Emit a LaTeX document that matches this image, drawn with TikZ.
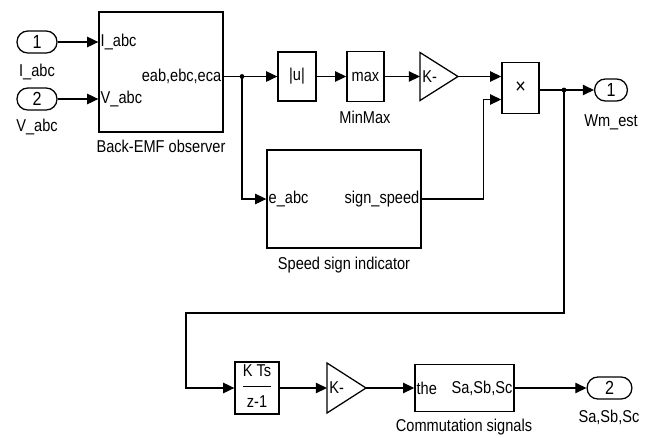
\documentclass[tikz,border=0pt]{standalone}
\usepackage{fontspec}
\setmainfont{Liberation Sans}[FakeStretch=0.85]
\usetikzlibrary{arrows.meta}

\begin{document}
\begin{tikzpicture}[x=0.025cm, y=-0.025cm,
  block/.style={draw, line width=0.9pt, inner sep=0pt, font=\fontsize{12.2}{14}\selectfont},
  port/.style={draw, line width=0.9pt, rounded corners=2.7mm, minimum height=0.55cm,
    inner sep=0pt, font=\fontsize{13.5}{15}\selectfont},
  gainbox/.style={draw, line width=0.9pt, line join=miter},
  pin/.style={inner sep=1.5pt, font=\fontsize{12.2}{14}\selectfont},
  caption/.style={inner sep=0pt, font=\fontsize{12.2}{14}\selectfont},
  wire/.style={-{Triangle[length=2.8mm, width=2.6mm]}, line width=0.9pt},
  tap/.style={circle, fill, inner sep=0pt, minimum size=3.4pt}
]
  \useasboundingbox (0,0) rectangle (654,437);

  % inports
  \node[port, minimum width=1cm] (in1) at (37,42) {1};
  \node[caption] (in1lab) at (37,72) {I\_abc};
  \node[port, minimum width=1cm] (in2) at (37,99) {2};
  \node[caption] (in2lab) at (37,127) {V\_abc};

  % back-emf observer
  \node[block, minimum width=3.1cm, minimum height=3cm] (emf) at (161,72) {};
  \node[caption] (emflab) at (161,146) {Back-EMF observer};
  \node[pin, anchor=west] (emfI) at (emf.west |- in1) {I\_abc};
  \node[pin, anchor=west] (emfV) at (emf.west |- in2) {V\_abc};
  \coordinate (tap1) at (242,76.5);
  \node[pin, anchor=east] (emfE) at (emf.east |- tap1) {eab,ebc,eca};

  % speed path
  \node[block, minimum width=0.95cm, minimum height=1.22cm] (abs) at (297,76.5) {|u|};
  \node[block, minimum width=0.93cm, minimum height=1.25cm] (max) at (365.5,76.5) {max};
  \node[caption] (maxlab) at (365,117) {MinMax};
  \coordinate (g1) at (420,76.5);
  \draw[gainbox] (g1) ++(0,-24) -- ++(38,24) coordinate (g1out) -- ++(-38,24) -- cycle;
  \node[pin, anchor=west] (g1k) at (g1) {K-};
  \node[block, minimum width=0.93cm, minimum height=1.27cm,
    font=\fontsize{15}{16}\selectfont] (prod) at (520.5,88) {×};
  \coordinate (prod2) at (prod.west |- 0,99.5);
  \node[port, minimum width=0.82cm] (out1) at (611,90) {1};
  \node[caption] (out1lab) at (611,122) {Wm\_est};
  \coordinate (tap2) at (564,90);

  % speed sign
  \node[block, minimum width=3.85cm, minimum height=2.45cm] (ssi) at (344,199) {};
  \node[caption] (ssilab) at (344,265) {Speed sign indicator};
  \node[pin, anchor=west] (ssiE) at (ssi.west) {e\_abc};
  \node[pin, anchor=east] (ssiS) at (ssi.east) {sign\_speed};

  % commutation path
  \coordinate (ret) at (186,313);
  \node[block, minimum width=1.1cm, minimum height=1.3cm] (kts) at (257,388)
    {\begin{tabular}{@{}c@{}}K Ts\\[3pt]\hline\rule{0pt}{15pt}z-1\end{tabular}};
  \coordinate (g2) at (327,388);
  \draw[gainbox] (g2) ++(0,-25) -- ++(39,25) coordinate (g2out) -- ++(-39,25) -- cycle;
  \node[pin, anchor=west] (g2k) at (g2) {K-};
  \node[block, minimum width=2.48cm, minimum height=1.18cm] (com) at (464.5,388) {};
  \node[caption] (comlab) at (464,427) {Commutation signals};
  \node[pin, anchor=west] (comT) at (com.west) {the};
  \node[pin, anchor=east] (comS) at (com.east) {Sa,Sb,Sc};
  \node[port, minimum width=1.12cm] (out2) at (609.5,388) {2};
  \node[caption] (out2lab) at (609,417) {Sa,Sb,Sc};

  \draw[wire] (in1.east) -- (in1 -| emf.west);
  \draw[wire] (in2.east) -- (in2 -| emf.west);
  \draw[wire] (emf.east |- tap1) -- (abs.west);
  \draw[wire] (tap1) |- (ssi.west);
  \draw[wire] (abs.east) -- (max.west);
  \draw[wire] (max.east) -- (g1);
  \draw[wire] (g1out) -- (g1out -| prod.west);
  \draw[wire] (ssi.east) -- ++(62,0) |- (prod2);
  \draw[wire] (prod.east |- out1) -- (out1.west);
  \draw[wire] (tap2) |- (ret) |- (kts.west);
  \draw[wire] (kts.east) -- (g2);
  \draw[wire] (g2out) -- (com.west);
  \draw[wire] (com.east) -- (out2.west);
  \node[tap] (t1) at (tap1) {};
  \node[tap] (t2) at (tap2) {};
\end{tikzpicture}
\end{document}
